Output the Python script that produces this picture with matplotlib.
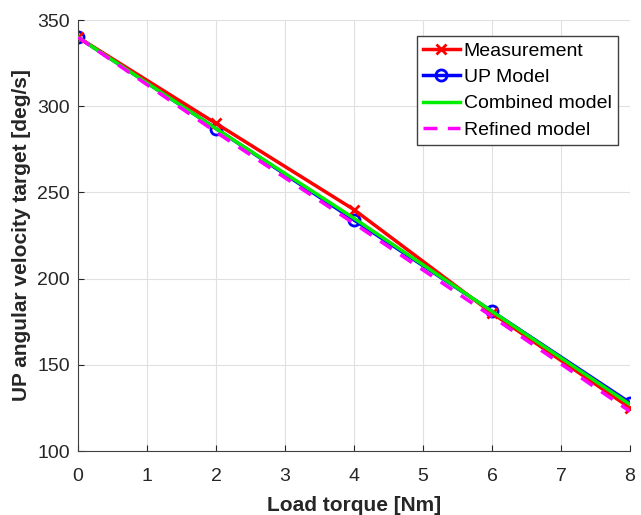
import numpy as np
import matplotlib
matplotlib.use('Agg')
import matplotlib.pyplot as plt

plt.rcParams['font.family'] = ['Liberation Sans', 'DejaVu Sans']

# Data
torque = [0, 2, 4, 6, 8]
measurement = [340, 290, 240, 180, 125]
up_model = [340, 287, 234, 181, 128]
combined_model = [340, 287, 235, 181, 127]
refined_model = [340, 285, 232, 178, 123]

x_ticks = [0, 1, 2, 3, 4, 5, 6, 7, 8]
y_ticks = [100, 150, 200, 250, 300, 350]

fig = plt.figure(figsize=(6.41, 5.15), dpi=100)
ax = fig.add_axes([78 / 641, 1 - 451 / 515, (630 - 78) / 641, (451 - 20) / 515])

ax.plot(torque, up_model, color='blue', lw=2.5, marker='o', ms=8, mew=2,
        mfc='none', label='UP Model', zorder=2)
ax.plot(torque, measurement, color='red', lw=2.5, marker='x', ms=7, mew=2,
        label='Measurement', zorder=3)
ax.plot(torque, combined_model, color='#00ee00', lw=2.5, label='Combined model', zorder=4)
ax.plot(torque, refined_model, color='magenta', lw=2.5, ls=(0, (4, 3)),
        label='Refined model', zorder=5)

ax.set_xlim(0, 8)
ax.set_ylim(100, 350)
ax.set_xticks(x_ticks)
ax.set_yticks(y_ticks)
ax.grid(True, color='#e0e0e0', lw=0.8)
ax.set_axisbelow(True)
for s in ['top', 'right']:
    ax.spines[s].set_visible(False)
for s in ['left', 'bottom']:
    ax.spines[s].set_color('#404040')
ax.tick_params(direction='in', labelsize=14, colors='#262626', length=4)
ax.tick_params(axis='x', pad=12)
ax.tick_params(axis='y', pad=6)

ax.set_xlabel('Load torque [Nm]', fontsize=15, fontweight='bold', color='#262626',
              labelpad=8)
ax.set_ylabel('UP angular velocity target [deg/s]', fontsize=15, fontweight='bold',
              color='#262626', labelpad=4)

handles, labels = ax.get_legend_handles_labels()
order = [1, 0, 2, 3]
leg = ax.legend([handles[i] for i in order], [labels[i] for i in order],
                loc='upper right', bbox_to_anchor=(0.995, 0.985), fontsize=14,
                fancybox=False, edgecolor='#404040', framealpha=1,
                handlelength=1.9, handletextpad=0.2, borderpad=0.3, labelspacing=0.45)
leg.get_frame().set_linewidth(1)

fig.savefig('out.png', dpi=100)
